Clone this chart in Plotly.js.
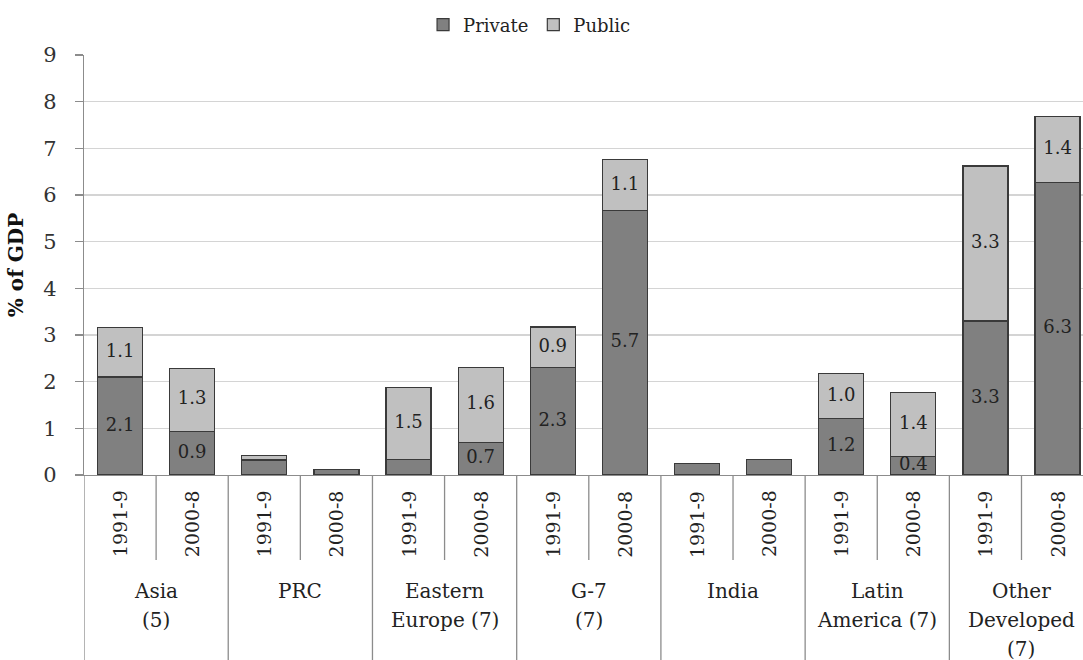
<!DOCTYPE html>
<html>
<head>
<meta charset="utf-8">
<script src="https://cdn.plot.ly/plotly-3.0.1.min.js"></script>
<style>html,body{margin:0;padding:0;background:#fff;}#chart{width:1083px;height:660px;}</style>
</head>
<body>
<div id="chart"></div>
<script>
// ---- data ----
const groupLines = [["Asia","(5)"],["PRC"],["Eastern","Europe (7)"],["G-7","(7)"],["India"],["Latin","America (7)"],["Other","Developed","(7)"]];
const periods = ["1991-9","2000-8"];
const privateVals = [2.10, 0.94, 0.32, 0.12, 0.34, 0.70, 2.31, 5.66, 0.25, 0.34, 1.21, 0.39, 3.30, 6.27];
const publicVals  = [1.06, 1.34, 0.09, 0.00, 1.54, 1.61, 0.86, 1.10, 0.00, 0.00, 0.96, 1.38, 3.32, 1.41];
const seriesNames = ["Private","Public"];

// ---- build ----
const FONT = "DejaVu Serif, serif";
const cats = [];
const catPeriod = [];
groupLines.forEach((g, gi) => periods.forEach(p => { cats.push(g.join(" ") + " | " + p); catPeriod.push(p); }));

const lbl = v => v >= 0.38 ? v.toFixed(1) : "";
const privMid = privateVals.map(v => v / 2);
const pubMid = publicVals.map((v, i) => privateVals[i] + v / 2);

const traces = [
  {type:"bar", name:seriesNames[0], x:cats, y:privateVals,
   marker:{color:"#808080", line:{color:"#3a3a3a", width:1.2}}, hoverinfo:"skip"},
  {type:"bar", name:seriesNames[1], x:cats, y:publicVals,
   marker:{color:"#c0c0c0", line:{color:"#3a3a3a", width:1.2}}, hoverinfo:"skip"},
  {type:"scatter", mode:"text", x:cats, y:privMid, text:privateVals.map(lbl),
   textfont:{family:FONT, size:18, color:"#222"}, showlegend:false, hoverinfo:"skip", cliponaxis:false},
  {type:"scatter", mode:"text", x:cats, y:pubMid, text:publicVals.map(lbl),
   textfont:{family:FONT, size:18, color:"#222"}, showlegend:false, hoverinfo:"skip", cliponaxis:false}
];

const plotTop = 55, plotBot = 475, plotH = plotBot - plotTop;
const py = Y => (plotBot - Y) / plotH; // pixel row -> paper y

const shapes = [];
const annotations = [];
const nCat = cats.length;
for (let b = 0; b <= nCat; b++) {
  const isGroup = b % 2 === 0;
  shapes.push({type:"line", xref:"x", yref:"paper", x0:b - 0.5, x1:b - 0.5,
    y0:0, y1: isGroup ? py(662) : py(560), line:{color:"#8c8c8c", width:1.3}});
}
catPeriod.forEach((p, i) => {
  annotations.push({xref:"x", yref:"paper", x:i, y:py(524), text:p, textangle:-90,
    showarrow:false, xanchor:"center", yanchor:"middle", font:{family:FONT, size:19, color:"#222"}});
});
groupLines.forEach((lines, gi) => {
  lines.forEach((t, k) => {
    annotations.push({xref:"x", yref:"paper", x:gi * 2 + 0.5, y:py(591 + 29 * k), text:t,
      showarrow:false, xanchor:"center", yanchor:"middle", font:{family:FONT, size:20, color:"#222"}});
  });
});

const layout = {
  width:1083, height:660,
  margin:{l:84, r:0, t:plotTop, b:660 - plotBot, pad:0},
  paper_bgcolor:"#fff", plot_bgcolor:"#fff",
  barmode:"stack", bargap:0.376,
  font:{family:FONT, color:"#222"},
  showlegend:true,
  legend:{orientation:"h", x:0.446, xanchor:"center", yref:"container", y:1 - 25/660, yanchor:"middle",
    font:{family:FONT, size:18, color:"#222"}, itemwidth:30, traceorder:"normal", bgcolor:"rgba(0,0,0,0)"},
  xaxis:{type:"category", range:[-0.5, 13.353], showticklabels:false, ticks:"",
    showline:true, linecolor:"#8c8c8c", linewidth:1.3, showgrid:false, zeroline:false, fixedrange:true},
  yaxis:{range:[0, 9], dtick:1, tick0:0, showgrid:true, gridcolor:"#d4d4d4", gridwidth:1.5,
    showline:true, linecolor:"#8c8c8c", linewidth:1.3, ticks:"outside", ticklen:8, tickcolor:"#8c8c8c",
    tickwidth:1.3, ticklabelstandoff:14, zeroline:false,
    tickfont:{family:FONT, size:21, color:"#333"},
    title:{text:"<b>% of GDP</b>", font:{family:FONT, size:20, color:"#111"}, standoff:14},
    automargin:false, fixedrange:true},
  shapes:shapes, annotations:annotations
};

Plotly.newPlot("chart", traces, layout, {displayModeBar:false, staticPlot:true});
</script>
</body>
</html>
